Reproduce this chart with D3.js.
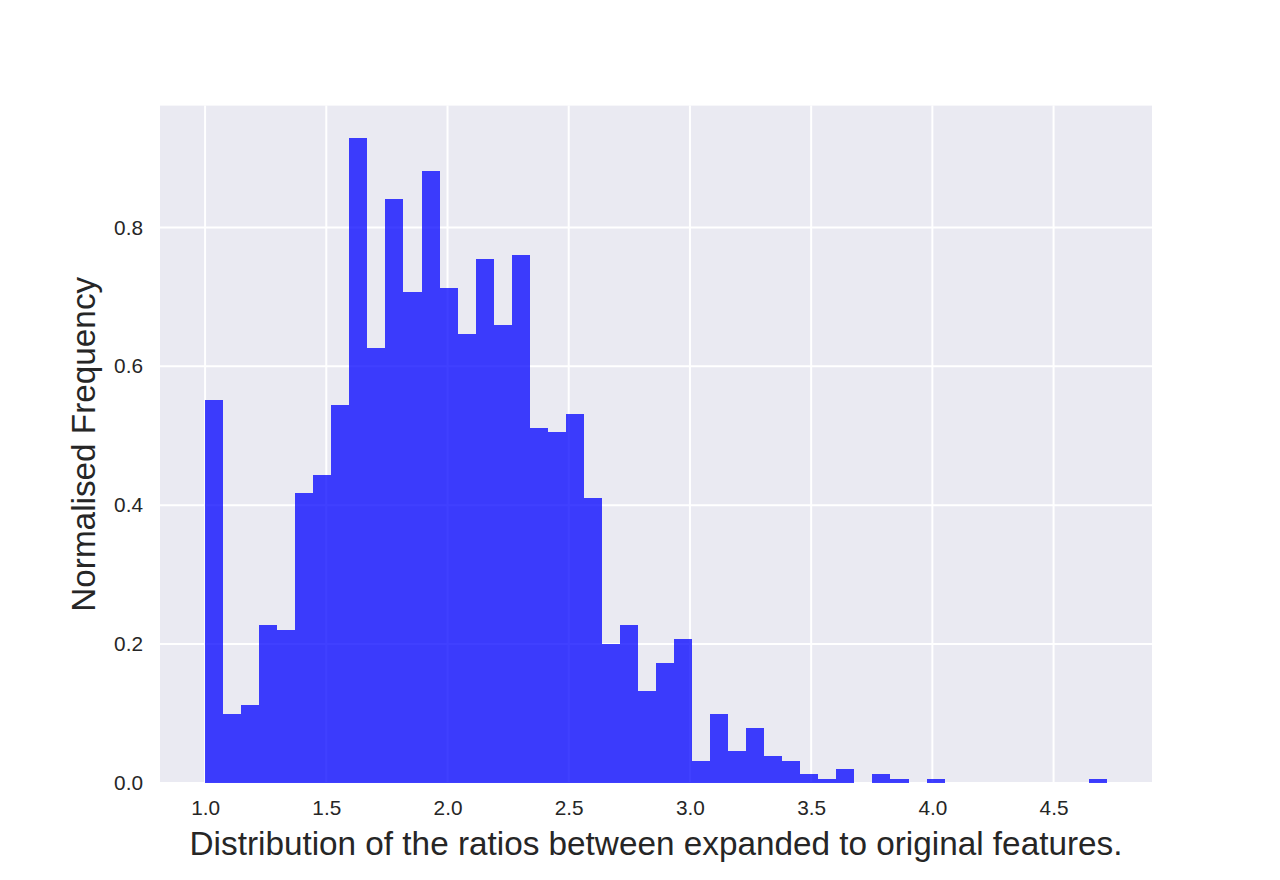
<!DOCTYPE html>
<html>
<head>
<meta charset="utf-8">
<script src="https://cdn.jsdelivr.net/npm/d3@7"></script>
<style>
  html, body { margin: 0; padding: 0; background: #ffffff; }
  svg { display: block; }
  text { font-family: "Liberation Sans", Arial, "DejaVu Sans", sans-serif; fill: #262626; }
</style>
</head>
<body>
<svg id="chart" width="1280" height="880"></svg>
<script>
// ---- data ----
const dataMin = 1.0;
const dataMax = 4.72;
const binCount = 50;
const binHeights = [
  0.551, 0.100, 0.113, 0.228, 0.221, 0.417, 0.443, 0.545, 0.929, 0.626,
  0.841, 0.707, 0.881, 0.713, 0.646, 0.755, 0.660, 0.760, 0.511, 0.505,
  0.531, 0.410, 0.200, 0.228, 0.132, 0.173, 0.208, 0.031, 0.099, 0.046,
  0.079, 0.039, 0.031, 0.013, 0.006, 0.020, 0.000, 0.013, 0.006, 0.000,
  0.006, 0.000, 0.000, 0.000, 0.000, 0.000, 0.000, 0.000, 0.000, 0.006
];
const xTickValues = [1.0, 1.5, 2.0, 2.5, 3.0, 3.5, 4.0, 4.5];
const yTickValues = [0.0, 0.2, 0.4, 0.6, 0.8];
const xLabel = "Distribution of the ratios between expanded to original features.";
const yLabel = "Normalised Frequency";

// ---- layout ----
const W = 1280, H = 880;
const plot = { left: 160, right: 1152, top: 105.6, bottom: 783 };

const binWidth = (dataMax - dataMin) / binCount;
const bins = binHeights.map((h, i) => ({
  x0: dataMin + i * binWidth,
  x1: dataMin + (i + 1) * binWidth,
  h: h
}));

const xPad = (dataMax - dataMin) * 0.05;
const x = d3.scaleLinear()
  .domain([dataMin - xPad, dataMax + xPad])
  .range([plot.left, plot.right]);
const yMax = d3.max(binHeights) * 1.05;
const y = d3.scaleLinear()
  .domain([0, yMax])
  .range([plot.bottom, plot.top]);

const svg = d3.select("#chart");

// background
svg.append("rect")
  .attr("x", plot.left).attr("y", plot.top)
  .attr("width", plot.right - plot.left)
  .attr("height", plot.bottom - plot.top)
  .attr("fill", "#EAEAF2");

// grid
const grid = svg.append("g");
grid.selectAll("line.gx").data(xTickValues).join("line")
  .attr("class", "gx")
  .attr("x1", d => x(d)).attr("x2", d => x(d))
  .attr("y1", plot.top).attr("y2", plot.bottom)
  .attr("stroke", "#ffffff").attr("stroke-width", 2);
grid.selectAll("line.gy").data(yTickValues).join("line")
  .attr("class", "gy")
  .attr("x1", plot.left).attr("x2", plot.right)
  .attr("y1", d => y(d)).attr("y2", d => y(d))
  .attr("stroke", "#ffffff").attr("stroke-width", 2);

// bars
svg.append("g")
  .attr("shape-rendering", "crispEdges")
  .selectAll("rect").data(bins.filter(b => b.h > 0)).join("rect")
  .attr("x", d => x(d.x0))
  .attr("width", d => x(d.x1) - x(d.x0))
  .attr("y", d => y(d.h))
  .attr("height", d => y(0) - y(d.h))
  .attr("fill", "#0000ff")
  .attr("fill-opacity", 0.75);

// axes
const fmt = d3.format(".1f");
const xAxis = svg.append("g")
  .attr("transform", `translate(0,${plot.bottom})`)
  .call(d3.axisBottom(x).tickValues(xTickValues).tickFormat(fmt).tickSize(0).tickPadding(17));
xAxis.select(".domain").remove();
xAxis.selectAll("text")
  .style("font-size", "20.8px")
  .attr("fill", "#262626");

const yAxis = svg.append("g")
  .attr("transform", `translate(${plot.left},0)`)
  .call(d3.axisLeft(y).tickValues(yTickValues).tickFormat(fmt).tickSize(0).tickPadding(17));
yAxis.select(".domain").remove();
yAxis.selectAll("text")
  .style("font-size", "20.8px")
  .attr("fill", "#262626");

// axis labels
svg.append("text")
  .attr("x", (plot.left + plot.right) / 2)
  .attr("y", 855)
  .attr("text-anchor", "middle")
  .style("font-size", "33.3px")
  .text(xLabel);

svg.append("text")
  .attr("transform", `translate(95,${(plot.top + plot.bottom) / 2}) rotate(-90)`)
  .attr("text-anchor", "middle")
  .style("font-size", "33.3px")
  .text(yLabel);
</script>
</body>
</html>
